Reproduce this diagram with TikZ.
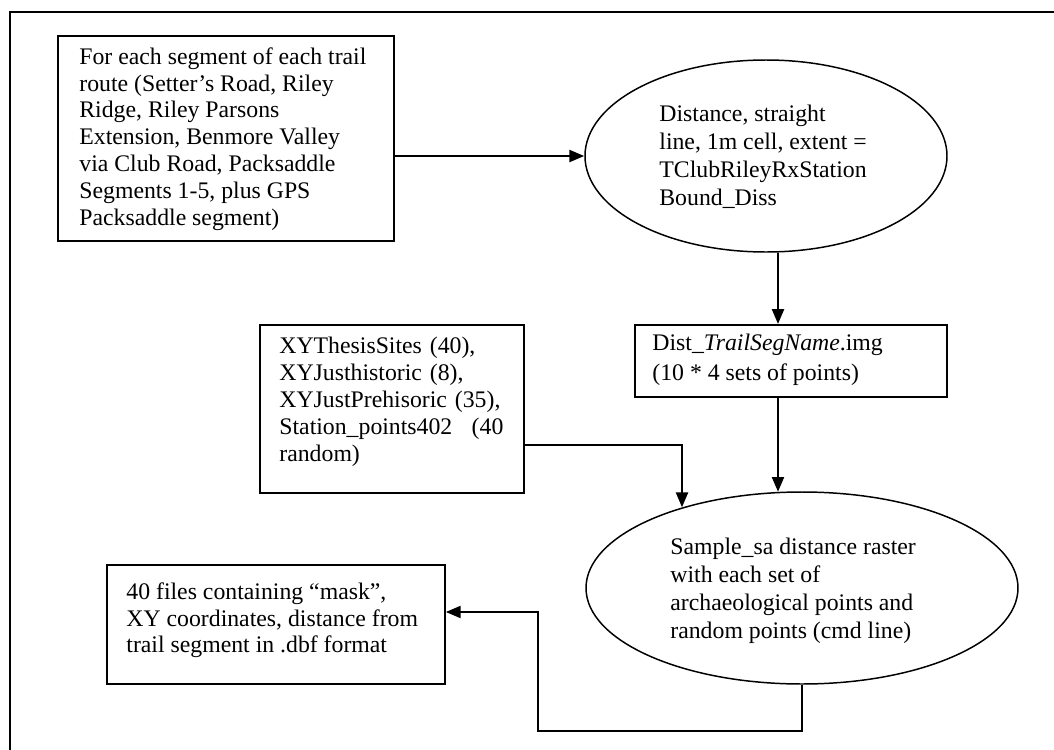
\documentclass[tikz,border=0pt]{standalone}
\usepackage{fontspec}
\setmainfont{Liberation Serif}
\usetikzlibrary{arrows.meta,shapes.geometric}
\begin{document}
\begin{tikzpicture}[x=0.505pt,y=-0.505pt,
  box/.style={draw,line width=0.9pt,rectangle,inner sep=0pt,anchor=north west},
  oval/.style={draw,line width=0.75pt,ellipse,inner sep=0pt},
  txt/.style={inner sep=0pt,anchor=north west,align=left,font=\fontsize{12pt}{13.6pt}\selectfont},
  conn/.style={line width=1.2pt,-{Triangle[length=7.5pt,width=6pt]}},
  wire/.style={line width=1.2pt}]
\useasboundingbox (0,0) rectangle (1054,750);
% outer frame (only top and left edges visible)
\draw[line width=1.3pt] (1054,12) -- (10,12) -- (10,750);

% boxes and ellipses
\node[box,minimum width=336*0.505pt,minimum height=205*0.505pt] (b1) at (57,35) {};
\node[oval,minimum width=362*0.505pt,minimum height=192*0.505pt] (e1) at (766,156) {};
\node[box,minimum width=312*0.505pt,minimum height=72*0.505pt] (b2) at (634,324) {};
\node[box,minimum width=264*0.505pt,minimum height=168*0.505pt] (b3) at (259,324) {};
\node[oval,minimum width=432*0.505pt,minimum height=192*0.505pt] (e2) at (802,588) {};
\node[box,minimum width=338*0.505pt,minimum height=119*0.505pt] (b4) at (106,564) {};

% texts
\node[txt] (t1) at (79,47) {For each segment of each trail\\route (Setter’s Road, Riley\\Ridge, Riley Parsons\\Extension, Benmore Valley\\via Club Road, Packsaddle\\Segments 1-5, plus GPS\\Packsaddle segment)};
\node[txt,font=\fontsize{12pt}{14.1pt}\selectfont] (te1) at (659,105) {Distance, straight\\line, 1m cell, extent =\\TClubRileyRxStation\\Bound\_Diss};
\node[txt,font=\fontsize{12pt}{15pt}\selectfont] (t2) at (652,334) {Dist\_\textit{TrailSegName}.img\\(10 * 4 sets of points)};
\node[txt,text width=224*0.505pt] (t3) at (279,337) {XYThesisSites (40),\\XYJusthistoric (8),\\XYJustPrehisoric (35),\\Station\_points402\hfill(40\\random)};
\node[txt,font=\fontsize{12pt}{14pt}\selectfont] (te2) at (670,538) {Sample\_sa distance raster\\with each set of\\archaeological points and\\random points (cmd line)};
\node[txt] (t4) at (126,582) {40 files containing “mask”,\\XY coordinates, distance from\\trail segment in .dbf format};

% connectors
\coordinate (cx) at (778,0);
\draw[conn] (e1.west -| b1.east) -- (e1.west);
\draw[conn] (e1.south -| cx) -- (cx |- b2.north);
\draw[conn] (cx |- b2.south) -- (cx |- e2.104);
\coordinate (c3) at (682,445);
\draw[conn] (c3 -| b3.east) -- (c3) -- (c3 |- e2.146.4);
\coordinate (c5) at (538,731);
\coordinate (c6) at (538,612);
\draw[conn] (e2.south) |- (c5) -- (c6) -- (c6 -| b4.east);
\end{tikzpicture}
\end{document}
